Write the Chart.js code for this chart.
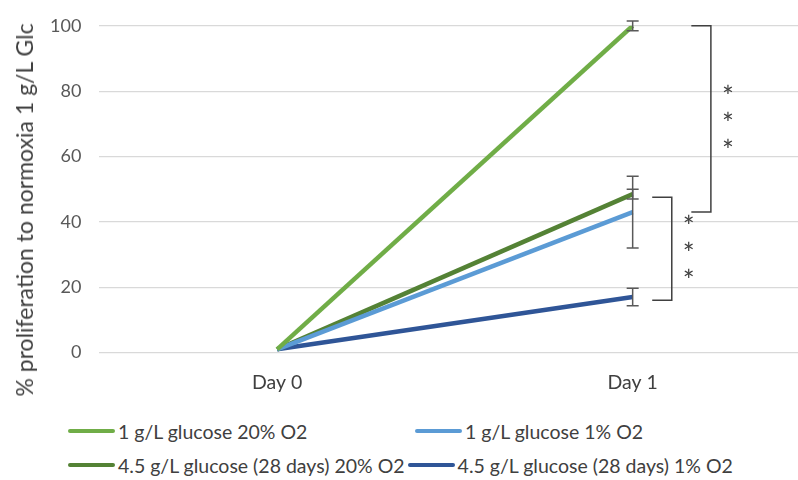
<!DOCTYPE html>
<html>
<head>
<meta charset="utf-8">
<script src="https://cdn.jsdelivr.net/npm/chart.js@4"></script>
<style>
  html, body { margin: 0; padding: 0; background: #fff; }
  #wrap { position: relative; width: 798px; height: 480px; overflow: hidden; }
  #chart-box { position: absolute; left: 0; top: -3px; width: 798px; height: 407px; }
  #ytitle { position: absolute; left: 24px; top: 210px; transform: translate(-50%, -50%) rotate(-90deg);
    white-space: nowrap; font-family: Lato, sans-serif; font-size: 23px; color: #404040; }
  #legend { position: absolute; left: 68px; top: 414px;
    font-family: Lato, "Open Sans", sans-serif; font-size: 19.5px; color: #404040; }
  .row { display: flex; height: 34px; align-items: center; }
  .item { display: flex; align-items: center; white-space: nowrap; }
  .swatch { width: 47px; height: 4px; margin-right: 3px; border-radius: 2px; }
</style>
</head>
<body>
<div id="wrap">
  <div id="chart-box"><canvas id="chart"></canvas></div>
  <div id="ytitle"></div>
  <div id="legend"></div>
</div>
<script>
const categories = ['Day 0', 'Day 1'];
const yTitle = '% proliferation to normoxia 1 g/L Glc';
const seriesNames = [
  '1 g/L glucose 20% O2',
  '1 g/L glucose 1% O2',
  '4.5 g/L glucose (28 days) 20% O2',
  '4.5 g/L glucose (28 days) 1% O2'
];
const seriesColors = ['#70AD47', '#5B9BD5', '#548235', '#2F5597'];
const glc1Normoxia = [1, 100];
const glc1Hypoxia = [1, 43];
const glc45Normoxia = [1, 48.5];
const glc45Hypoxia = [1, 17];
// error (+/-) at Day 1 only
const errors = [1.5, 11, 1.5, 2.7];
const yTicks = [0, 20, 40, 60, 80, 100];
// significance brackets
const brackets = [
  { top: 100, bottom: 43, x: 1.22, arm: 0.055, label: '*' },
  { top: 47.5, bottom: 16, x: 1.11, arm: 0.055, label: '*' }
];

const allValues = [glc1Normoxia, glc1Hypoxia, glc45Normoxia, glc45Hypoxia];

const errorBarPlugin = {
  id: 'errorBars',
  afterDatasetsDraw(chart) {
    const ctx = chart.ctx;
    const xs = chart.scales.x, ys = chart.scales.y;
    ctx.save();
    ctx.strokeStyle = '#595959';
    ctx.lineWidth = 1.5;
    allValues.forEach((vals, i) => {
      const v = vals[1], e = errors[i];
      const px = xs.getPixelForValue(1);
      const top = ys.getPixelForValue(v + e), bot = ys.getPixelForValue(v - e);
      ctx.beginPath();
      ctx.moveTo(px, top); ctx.lineTo(px, bot);
      ctx.moveTo(px - 6, top); ctx.lineTo(px + 6, top);
      ctx.moveTo(px - 6, bot); ctx.lineTo(px + 6, bot);
      ctx.stroke();
    });
    // brackets
    ctx.strokeStyle = '#404040';
    ctx.lineWidth = 1.5;
    ctx.fillStyle = '#404040';
    ctx.font = '28px Lato, sans-serif';
    ctx.textAlign = 'center';
    ctx.textBaseline = 'middle';
    brackets.forEach(b => {
      const px = xs.getPixelForValue(b.x);
      const left = xs.getPixelForValue(b.x - b.arm);
      const top = ys.getPixelForValue(b.top), bot = ys.getPixelForValue(b.bottom);
      ctx.beginPath();
      ctx.moveTo(left, top); ctx.lineTo(px, top); ctx.lineTo(px, bot); ctx.lineTo(left, bot);
      ctx.stroke();
      const mid = (top + bot) / 2;
      const sx = px + 17;
      for (let k = -1; k <= 1; k++) {
        ctx.fillText(b.label, sx, mid + k * 27 + 6);
      }
    });
    ctx.restore();
  }
};

const chart = new Chart(document.getElementById('chart'), {
  type: 'line',
  data: {
    datasets: allValues.map((vals, i) => ({
      label: seriesNames[i],
      data: vals.map((v, j) => ({ x: j, y: v })),
      borderColor: seriesColors[i],
      backgroundColor: seriesColors[i],
      borderWidth: 4.5,
      pointRadius: 0,
      tension: 0
    }))
  },
  options: {
    responsive: true,
    maintainAspectRatio: false,
    animation: false,
    layout: { padding: { top: 12, right: 0, bottom: 0, left: 32 } },
    plugins: {
      legend: { display: false },
      tooltip: { enabled: false }
    },
    scales: {
      x: {
        type: 'linear',
        min: -0.5,
        max: 1.465,
        afterBuildTicks: axis => { axis.ticks = categories.map((c, i) => ({ value: i })); },
        ticks: {
          callback: v => categories[v],
          color: '#404040',
          font: { family: 'Lato, sans-serif', size: 19.5 },
          padding: 10
        },
        grid: { display: false },
        border: { display: false }
      },
      y: {
        min: 0,
        max: 100,
        afterBuildTicks: axis => { axis.ticks = yTicks.map(v => ({ value: v })); },
        ticks: {
          color: '#595959',
          font: { family: 'Lato, sans-serif', size: 18 },
          padding: 18
        },
        grid: { color: '#D9D9D9', lineWidth: 1.2, drawTicks: false },
        border: { display: false }
      }
    }
  },
  plugins: [errorBarPlugin]
});

document.getElementById('ytitle').textContent = yTitle;

// legend rows: second item of row 1 starts at a fixed column, row 2 follows the first item
const legend = document.getElementById('legend');
const rows = [[0, 1], [2, 3]];
rows.forEach((r, ri) => {
  const row = document.createElement('div');
  row.className = 'row';
  r.forEach((i, k) => {
    const item = document.createElement('div');
    item.className = 'item';
    if (ri === 0 && k === 0) item.style.width = '347px';
    if (ri === 1 && k === 0) item.style.marginRight = '3px';
    const sw = document.createElement('span');
    sw.className = 'swatch';
    sw.style.background = seriesColors[i];
    const txt = document.createElement('span');
    txt.textContent = seriesNames[i];
    item.appendChild(sw);
    item.appendChild(txt);
    row.appendChild(item);
  });
  legend.appendChild(row);
});
</script>
</body>
</html>
